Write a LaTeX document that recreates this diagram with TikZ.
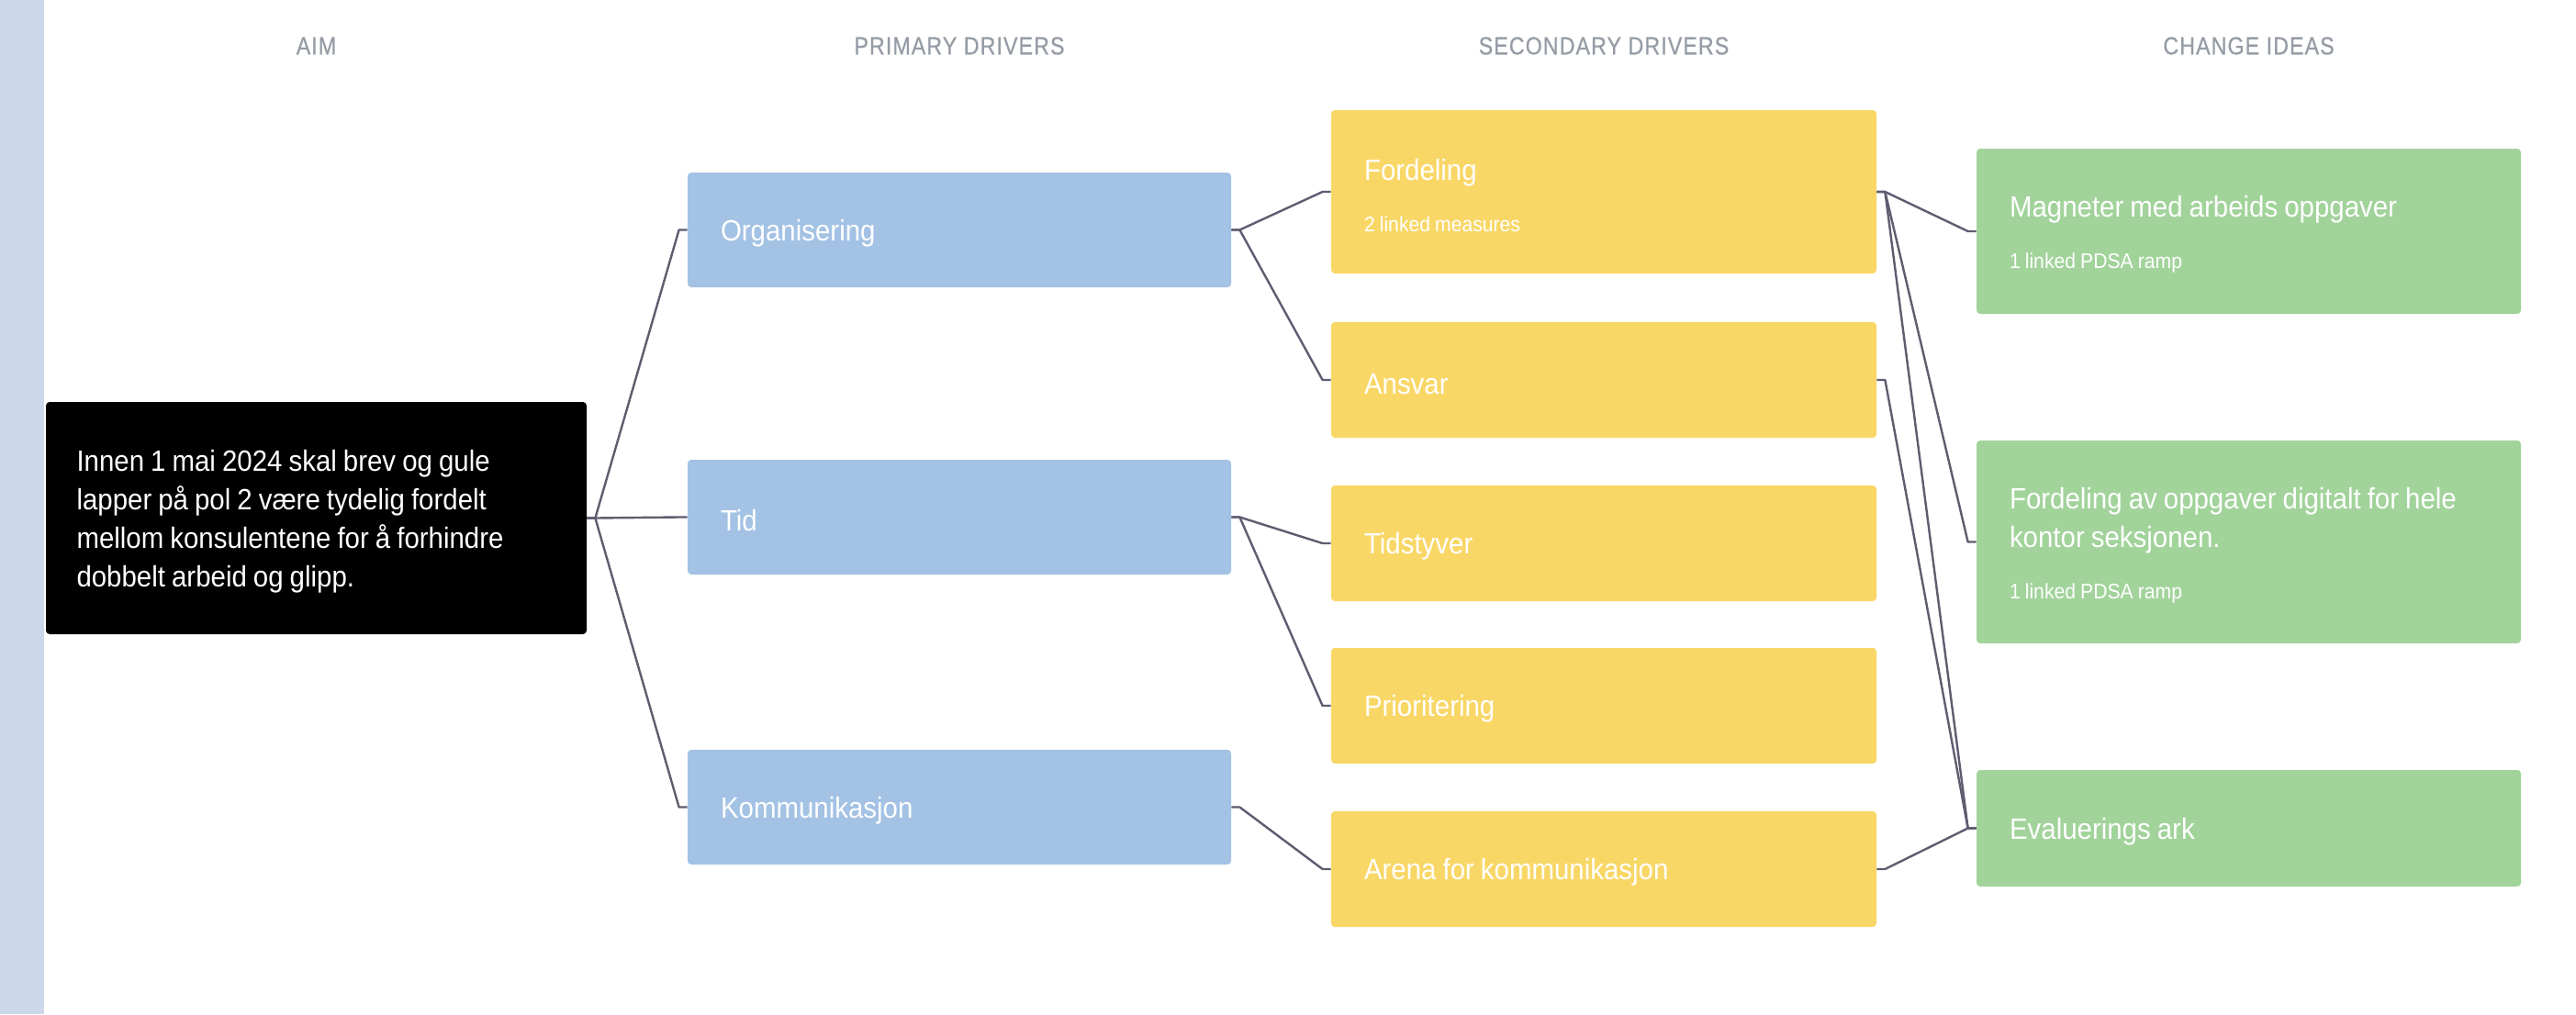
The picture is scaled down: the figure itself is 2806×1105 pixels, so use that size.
\documentclass[tikz,border=0pt]{standalone}
\usepackage{fontspec}
\setmainfont{Liberation Sans}[FakeStretch=0.92]
\newfontfamily\hdfont{Liberation Sans}[FakeStretch=0.86,LetterSpace=4,FakeBold=0.6]
\usetikzlibrary{calc}
\definecolor{stripc}{HTML}{CDD7EA}
\definecolor{primc}{HTML}{A3C2E4}
\definecolor{secc}{HTML}{F9D767}
\definecolor{chgc}{HTML}{A2D39B}
\definecolor{linec}{HTML}{5E5D70}
\definecolor{hdc}{HTML}{969CA6}
\newcommand{\mainf}{\fontsize{16pt}{21pt}\selectfont}
\newcommand{\subf}{\fontsize{11.5pt}{14pt}\selectfont\spaceskip=0.22em\relax}
\tikzset{
  box/.style={rectangle, rounded corners=2pt, draw=none, text=white, align=left,
    inner xsep=18pt, inner ysep=0pt, font=\mainf,
    execute at begin node={\spaceskip=0.22em\relax\rule{0pt}{15.3pt}}},
  aimbox/.style={box, fill=black, text width=261pt, minimum width=294.5pt, minimum height=126.5pt, inner xsep=16.5pt},
  primbox/.style={box, fill=primc, text width=260pt, minimum width=296pt, minimum height=62.5pt},
  secbox/.style={box, fill=secc, text width=261pt, minimum width=297pt, minimum height=63pt},
  chgbox/.style={box, fill=chgc, text width=260.5pt, minimum width=296.5pt, minimum height=63.5pt},
  header/.style={text=hdc, font=\hdfont\fontsize{13.5pt}{16pt}\selectfont, inner sep=0pt},
  conn/.style={draw=linec, line width=1.2pt, line join=round}
}
\newcommand{\conn}[2]{\draw[conn] (#1.east) -- ++(4.5pt,0) -- ($(#2.west)+(-4.5pt,0)$) -- (#2.west);}
\begin{document}
\begin{tikzpicture}[x=0.5pt,y=-0.5pt]
\useasboundingbox (0,0) rectangle (2806,1105);
\fill[white] (0,0) rectangle (2806,1105);
\fill[stripc] (0,0) rectangle (48,1105);

% headers
\node[header] (h1) at (344.5,50) {AIM};
\node[header] (h2) at (1045,50) {PRIMARY DRIVERS};
\node[header] (h3) at (1747,50) {SECONDARY DRIVERS};
\node[header] (h4) at (2449.5,50) {CHANGE IDEAS};

% aim
\node[aimbox] (aim) at (344.5,564.5) {Innen 1 mai 2024 skal brev og gule\\lapper på pol 2 være tydelig fordelt\\mellom konsulentene for å forhindre\\dobbelt arbeid og glipp.};

% primary drivers
\node[primbox] (org) at (1045,250.5) {Organisering};
\node[primbox] (tid) at (1045,563.5) {Tid};
\node[primbox] (komm) at (1045,879.5) {Kommunikasjon};

% secondary drivers
\node[secbox, minimum height=89pt] (ford) at (1747,209) {Fordeling\\[7pt]{\subf 2 linked measures}};
\node[secbox] (ansv) at (1747,414) {Ansvar};
\node[secbox] (tids) at (1747,592) {Tidstyver};
\node[secbox] (prio) at (1747,769) {Prioritering};
\node[secbox] (arena) at (1747,947) {Arena for kommunikasjon};

% change ideas
\node[chgbox, minimum height=90pt] (magn) at (2449.5,252) {Magneter med arbeids oppgaver\\[7pt]{\subf 1 linked PDSA ramp}};
\node[chgbox, minimum height=110.5pt] (fordav) at (2449.5,590.5) {Fordeling av oppgaver digitalt for hele\\kontor seksjonen.\\[7pt]{\subf 1 linked PDSA ramp}};
\node[chgbox] (eval) at (2449.5,902.5) {Evaluerings ark};

% connectors
\conn{aim}{org}
\conn{aim}{tid}
\conn{aim}{komm}
\conn{org}{ford}
\conn{org}{ansv}
\conn{tid}{tids}
\conn{tid}{prio}
\conn{komm}{arena}
\conn{ford}{magn}
\conn{ford}{fordav}
\conn{ford}{eval}
\conn{ansv}{eval}
\conn{arena}{eval}
\end{tikzpicture}
\end{document}
